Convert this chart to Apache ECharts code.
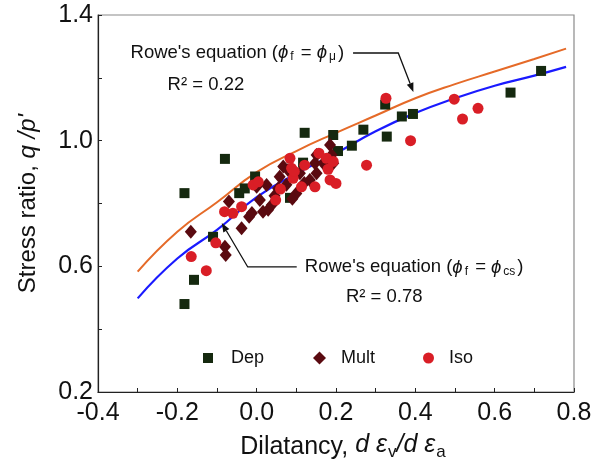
<!DOCTYPE html>
<html><head><meta charset="utf-8">
<script src="https://cdn.jsdelivr.net/npm/echarts@6.0.0/dist/echarts.min.js"></script>
<style>html,body{margin:0;padding:0;background:#fff}#c{width:595px;height:461px}</style>
</head><body><div id="c"></div>
<script>
// ---- data ----
const dep = [[-0.182,0.48],[-0.158,0.557],[-0.11,0.694],[-0.182,0.833],[-0.08,0.942],[-0.044,0.833],[-0.03,0.848],[-0.004,0.886],[0.084,0.818],[0.117,0.93],[0.121,1.025],[0.193,1.018],[0.205,0.967],[0.24,0.984],[0.269,1.035],[0.324,1.115],[0.328,1.013],[0.366,1.077],[0.394,1.085],[0.64,1.153],[0.717,1.222]];
const mult = [[-0.166,0.71],[-0.08,0.662],[-0.078,0.636],[-0.038,0.721],[-0.019,0.758],[-0.07,0.806],[-0.012,0.77],[0.008,0.811],[0.016,0.774],[0.029,0.78],[0.038,0.795],[0.0,0.853],[0.025,0.859],[0.054,0.848],[0.058,0.885],[0.067,0.918],[0.079,0.907],[0.1,0.832],[0.109,0.896],[0.134,0.875],[0.147,0.928],[0.151,0.896],[0.151,0.954],[0.168,0.928],[0.185,0.986],[0.189,0.954],[0.193,0.928],[0.045,0.825],[0.075,0.86],[0.12,0.865],[0.09,0.815]];
const iso = [[-0.165,0.631],[-0.127,0.586],[-0.103,0.675],[-0.081,0.774],[-0.06,0.769],[-0.038,0.79],[-0.009,0.859],[0.004,0.869],[0.048,0.811],[0.06,0.846],[0.084,0.944],[0.088,0.912],[0.092,0.88],[0.095,0.902],[0.113,0.853],[0.121,0.922],[0.147,0.853],[0.157,0.96],[0.176,0.944],[0.18,0.909],[0.185,0.875],[0.193,0.934],[0.2,0.864],[0.277,0.922],[0.326,1.135],[0.388,1.0],[0.498,1.132],[0.519,1.069],[0.558,1.103]];
const roweX  = [-0.3,-0.2,-0.1,0,0.1,0.2,0.3,0.4,0.5,0.6,0.7,0.78];
const roweMu = [0.583,0.71,0.804,0.90,0.967,1.025,1.08,1.135,1.18,1.22,1.26,1.293];
const roweCs = [0.498,0.625,0.716,0.82,0.895,0.96,1.03,1.088,1.135,1.175,1.207,1.235];
const seriesNames = ['Dep','Mult','Iso'];
const xLabels = ['-0.4','-0.2','0.0','0.2','0.4','0.6','0.8'];
const yLabels = ['0.2','0.6','1.0','1.4'];

const FONT = 'Liberation Sans, Arial, sans-serif';
const chart = echarts.init(document.getElementById('c'), null, {renderer:'canvas'});
const zip = (xs, ys) => xs.map((x,i)=>[x, ys[i]]);
const fmt = v => { const s = (Math.round(v*10)/10).toFixed(1); return s === '-0.0' ? '0.0' : s; };

const option = {
  animation:false,
  backgroundColor:'#fff',
  grid:{left:98, top:15, right:21, bottom:69, containLabel:false, outerBoundsMode:'none',
        show:true, borderColor:'#8a8a8a', borderWidth:1.2, backgroundColor:'transparent'},
  xAxis:{type:'value', min:-0.4, max:0.8, interval:0.1,
    axisLine:{onZero:false, lineStyle:{color:'#222', width:1.2}},
    axisTick:{inside:true, length:4, lineStyle:{color:'#222'}},
    splitLine:{show:false},
    axisLabel:{margin:9, fontSize:25, fontFamily:FONT, color:'#111',
      formatter:v=>{const s=fmt(v); return xLabels.includes(s)?s:'';}},
    name:'Dilatancy, {i|d \u03B5}{s|v}{i|/d \u03B5}{s|a}', nameLocation:'middle', nameGap:41,
    nameTextStyle:{fontSize:25, fontFamily:FONT, color:'#111', verticalAlign:'top', padding:[0,0,0,14],
      rich:{i:{fontSize:25, fontStyle:'italic', fontFamily:FONT, color:'#111', verticalAlign:'top'},
            s:{fontSize:17, fontFamily:FONT, color:'#111', padding:[11,0,0,1], verticalAlign:'top'}}}
  },
  yAxis:{type:'value', min:0.2, max:1.4, interval:0.2,
    axisLine:{onZero:false, lineStyle:{color:'#222', width:1.2}},
    axisTick:{inside:true, length:4, lineStyle:{color:'#222'}},
    splitLine:{show:false},
    axisLabel:{margin:5, fontSize:25, fontFamily:FONT, color:'#111',
      formatter:v=>{const s=fmt(v); return yLabels.includes(s)?s:'';}},
    name:'Stress ratio, {i|q /p\'}', nameLocation:'middle', nameGap:58, nameRotate:90,
    nameTextStyle:{fontSize:24, fontFamily:FONT, color:'#111',
      rich:{i:{fontSize:24, fontStyle:'italic', fontFamily:FONT, color:'#111'}}}
  },
  legend:[
    {data:[{name:'Dep', icon:'rect'}], left:198, top:344, itemWidth:10, itemHeight:10, textStyle:{fontSize:18, fontFamily:FONT, color:'#111', padding:[0,0,0,13]}},
    {data:[{name:'Mult', icon:'diamond'}], left:308, top:344, itemWidth:13, itemHeight:13, textStyle:{fontSize:18, fontFamily:FONT, color:'#111', padding:[0,0,0,10]}},
    {data:[{name:'Iso', icon:'circle'}], left:418, top:344, itemWidth:11, itemHeight:11, textStyle:{fontSize:18, fontFamily:FONT, color:'#111', padding:[0,0,0,10]}}
  ],
  series:[
    {type:'line', name:'roweMu', data:zip(roweX, roweMu), smooth:true, symbol:'none', lineStyle:{color:'#e56a28', width:2}, z:1, silent:true},
    {type:'line', name:'roweCs', data:zip(roweX, roweCs), smooth:true, symbol:'none', lineStyle:{color:'#1a1aff', width:2.2}, z:1, silent:true},
    {type:'scatter', name:seriesNames[0], data:dep, symbol:'rect', symbolSize:10, itemStyle:{color:'#15290f', opacity:1}, z:2},
    {type:'scatter', name:seriesNames[1], data:mult, symbol:'diamond', symbolSize:[12,14], itemStyle:{color:'#5a0a10', opacity:1}, z:3},
    {type:'scatter', name:seriesNames[2], data:iso, symbol:'circle', symbolSize:11, itemStyle:{color:'#d91e26', opacity:1}, z:4}
  ]
};
chart.setOption(option);

// ---- annotations (anchored in data coordinates) ----
const P = (x,y) => chart.convertToPixel({gridIndex:0}, [x,y]);
const arrow1 = [[0.243,1.279],[0.357,1.279],[0.395,1.155]];
const arrow2 = [[0.101,0.598],[-0.0225,0.598],[-0.088,0.738]];
const richT = {
  n:{fontSize:18.5, fontFamily:FONT, fill:'#111', verticalAlign:'top'},
  p:{fontSize:18.5, fontFamily:FONT, fontStyle:'italic', fill:'#111', verticalAlign:'top'},
  s:{fontSize:12, fontFamily:FONT, fill:'#111', verticalAlign:'top', padding:[8,2,0,2]}
};
function arrowEls(pts){
  const px = pts.map(p=>P(p[0],p[1]));
  const a = px[px.length-2], b = px[px.length-1];
  const ang = Math.atan2(b[1]-a[1], b[0]-a[0]);
  const L = 9, W = 3.5;
  const back = [b[0]-L*Math.cos(ang), b[1]-L*Math.sin(ang)];
  const head = [b,
    [back[0]+W*Math.sin(ang), back[1]-W*Math.cos(ang)],
    [back[0]-W*Math.sin(ang), back[1]+W*Math.cos(ang)]];
  return [
    {type:'polyline', shape:{points:px.slice(0,-1).concat([back])}, style:{stroke:'#111', lineWidth:1.3, fill:null}, z:10},
    {type:'polygon', shape:{points:head}, style:{fill:'#111'}, z:10}
  ];
}
function textEl(dataXY, text){
  const p = P(dataXY[0], dataXY[1]);
  return {type:'text', x:p[0], y:p[1], z:10, style:{text:text, rich:richT, verticalAlign:'middle', align:'left'}};
}
const g = [].concat(
  arrowEls(arrow1), arrowEls(arrow2),
  [textEl([-0.318,1.279],'{n|Rowe\'s equation (}{p|\u03D5}{s|f}{n| = }{p|\u03D5}{s|\u03BC}{n|)}'),
   textEl([-0.2245,1.177],'{n|R\u00B2 = 0.22}'),
   textEl([0.1215,0.595],'{n|Rowe\'s equation (}{p|\u03D5}{s|f}{n| = }{p|\u03D5}{s|cs}{n|)}'),
   textEl([0.225,0.502],'{n|R\u00B2 = 0.78}')]
);
chart.setOption({graphic:g});
</script></body></html>
